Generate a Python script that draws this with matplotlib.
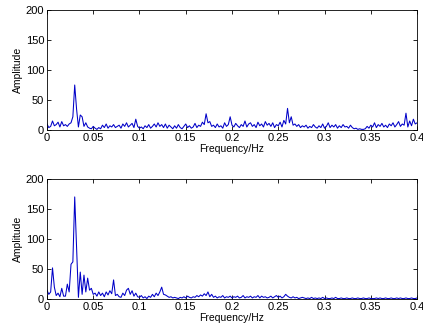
import numpy as np
import matplotlib
matplotlib.use("Agg")
import matplotlib.pyplot as plt

plt.rcParams['font.family'] = ['Liberation Sans', 'DejaVu Sans']

# frequency axis, 0.002 Hz resolution
freq = np.round(np.arange(0, 0.4001, 0.002), 3)

amp_top = [
    10, 4, 6, 15, 7, 9, 13, 5, 14, 7,
    9, 6, 10, 12, 22, 75, 35, 5, 25, 22,
    6, 12, 5, 3, 2, 6, 3, 1, 4, 2,
    8, 4, 10, 3, 7, 5, 9, 4, 6, 8,
    3, 10, 6, 12, 5, 8, 11, 4, 18, 6,
    3, 5, 2, 7, 4, 9, 3, 6, 10, 5,
    12, 6, 9, 4, 10, 3, 8, 5, 2, 7,
    3, 9, 4, 2, 6, 10, 4, 7, 3, 5,
    11, 4, 8, 6, 13, 9, 27, 12, 14, 6,
    8, 4, 10, 5, 7, 3, 12, 6, 9, 22,
    8, 5, 11, 7, 4, 9, 6, 15, 5, 10,
    12, 6, 9, 4, 13, 7, 10, 5, 14, 8,
    11, 6, 12, 4, 9, 7, 13, 5, 16, 10,
    36, 12, 22, 8, 10, 6, 9, 4, 7, 5,
    8, 3, 6, 4, 9, 5, 3, 7, 4, 10,
    3, 6, 12, 4, 8, 5, 9, 3, 7, 4,
    9, 5, 6, 3, 8, 4, 2, 3, 1, 2,
    1, 1, 2, 6, 3, 8, 5, 12, 4, 9,
    6, 11, 5, 8, 4, 10, 7, 12, 5, 9,
    14, 6, 10, 8, 28, 5, 15, 7, 18, 10,
    12,
]

amp_bottom = [
    15, 8, 12, 52, 20, 6, 10, 4, 18, 5,
    5, 25, 12, 58, 62, 170, 85, 3, 45, 8,
    40, 12, 35, 15, 18, 8, 10, 5, 12, 6,
    10, 4, 12, 7, 14, 9, 32, 6, 8, 4,
    3, 10, 6, 15, 18, 8, 14, 5, 10, 4,
    3, 6, 2, 4, 1, 5, 3, 8, 4, 10,
    6, 12, 20, 8, 7, 5, 3, 4, 2, 3,
    2, 1, 3, 2, 4, 2, 5, 3, 2, 4,
    3, 6, 4, 7, 5, 9, 6, 12, 4, 8,
    3, 5, 2, 4, 3, 6, 2, 4, 3, 5,
    2, 4, 3, 5, 2, 3, 6, 2, 4, 3,
    5, 2, 4, 3, 6, 2, 5, 3, 4, 2,
    3, 5, 2, 4, 6, 3, 5, 2, 4, 8,
    5, 3, 2, 4, 2, 3, 1, 2, 3, 2,
    1, 2, 1, 3, 1, 2, 1, 2, 1, 3,
    1, 2, 1, 1, 2, 1, 3, 1, 1, 2,
    1, 1, 2, 1, 1, 2, 1, 1, 2, 1,
    1, 2, 1, 1, 2, 1, 1, 1, 2, 1,
    2, 1, 1, 2, 1, 1, 2, 1, 1, 2,
    1, 2, 1, 1, 2, 1, 1, 2, 1, 1,
    2,
]

xticks = [0, 0.05, 0.1, 0.15, 0.2, 0.25, 0.3, 0.35, 0.4]
xticklabels = ['0', '0.05', '0.1', '0.15', '0.2', '0.25', '0.3', '0.35', '0.4']
yticks = [0, 50, 100, 150, 200]

fig = plt.figure(figsize=(4.23, 3.35), dpi=100)
ax1 = fig.add_axes([0.111, 0.612, 0.875, 0.358])
ax2 = fig.add_axes([0.111, 0.107, 0.875, 0.359])

for ax, amp in [(ax1, amp_top), (ax2, amp_bottom)]:
    ax.plot(freq, amp, color='#0000c8', linewidth=0.75)
    ax.set_xlim(0, 0.4)
    ax.set_ylim(0, 200)
    ax.set_xticks(xticks)
    ax.set_xticklabels(xticklabels)
    ax.set_yticks(yticks)
    ax.tick_params(direction='in', top=True, right=True, length=3,
                   width=0.6, labelsize=8, pad=2)
    for s in ax.spines.values():
        s.set_linewidth(0.6)
    ax.set_xlabel('Frequency/Hz', fontsize=7.5, labelpad=1)
    ax.set_ylabel('Amplitude', fontsize=7.5, labelpad=2)

fig.savefig('out.png', dpi=100)
